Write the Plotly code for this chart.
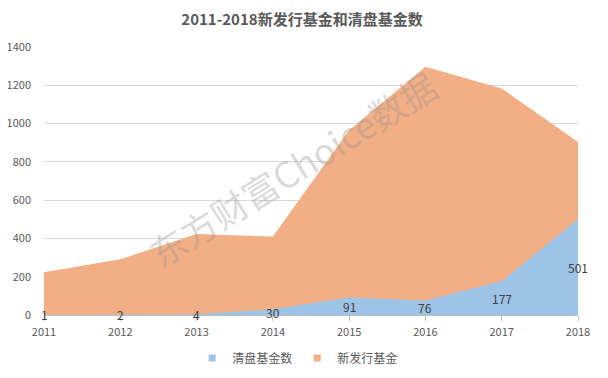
import plotly.graph_objects as go

years = [2011, 2012, 2013, 2014, 2015, 2016, 2017, 2018]
new_funds = [223, 291, 423, 410, 965, 1297, 1183, 904]
liquidated = [1, 2, 4, 30, 91, 76, 177, 501]
y_ticks = [0, 200, 400, 600, 800, 1000, 1200, 1400]

title_text = "2011-2018新发行基金和清盘基金数"
name_new = "新发行基金"
name_liq = "清盘基金数"
watermark = "东方财富Choice数据"

FONT = "Noto Sans CJK SC"
ORANGE = "#F2AE84"
BLUE = "#9DC3E6"
TEXT = "#595959"

fig = go.Figure()
fig.add_trace(go.Scatter(
    x=years, y=new_funds, name=name_new, mode="lines",
    fill="tozeroy", fillcolor=ORANGE, line=dict(width=0, color=ORANGE),
    showlegend=False, hoverinfo="x+y"))
fig.add_trace(go.Scatter(
    x=years, y=liquidated, name=name_liq, mode="lines",
    fill="tozeroy", fillcolor=BLUE, line=dict(width=0, color=BLUE),
    showlegend=False, hoverinfo="x+y"))
# legend swatches (small squares like the original)
fig.add_trace(go.Scatter(
    x=[None], y=[None], name=name_liq, mode="markers",
    marker=dict(symbol="square", size=7, color=BLUE), legendrank=1))
fig.add_trace(go.Scatter(
    x=[None], y=[None], name=name_new, mode="markers",
    marker=dict(symbol="square", size=7, color=ORANGE), legendrank=2))

annotations = []
for x, v in zip(years, liquidated):
    annotations.append(dict(
        x=x, y=v / 2, xref="x", yref="y", text=str(v), showarrow=False,
        font=dict(family=FONT, size=12, color="#404040"),
        xanchor="center", yanchor="middle"))

annotations.append(dict(
    x=0.465, y=0.55, xref="paper", yref="paper", text=watermark,
    showarrow=False, textangle=-32,
    font=dict(family=FONT, size=36, color="rgba(150,150,150,0.35)"),
    xanchor="center", yanchor="middle"))

# page body has an 8px margin, so the figure is 8px smaller to fit the window
fig.update_layout(
    width=600, height=370,
    margin=dict(l=36, r=30, t=39, b=63),
    paper_bgcolor="white", plot_bgcolor="white",
    title=dict(text="<b>" + title_text + "</b>", x=0.49, xanchor="center",
               y=1 - 12 / 370, yanchor="middle",
               font=dict(family=FONT, size=15, color=TEXT)),
    font=dict(family=FONT, color=TEXT),
    showlegend=True,
    legend=dict(orientation="h", x=0.475, xanchor="center",
                yref="container", y=20 / 370, yanchor="middle",
                font=dict(family=FONT, size=12, color=TEXT),
                itemwidth=30, bgcolor="rgba(0,0,0,0)"),
    annotations=annotations,
)

fig.update_xaxes(
    range=[2011, 2018], tickvals=years, ticktext=[str(y) for y in years],
    showgrid=False, zeroline=False, showline=True, linecolor="#BFBFBF",
    ticks="outside", ticklen=5, tickcolor="#BFBFBF", automargin=False,
    tickfont=dict(family=FONT, size=11, color=TEXT), ticklabelstandoff=2)
fig.update_yaxes(
    range=[0, 1400], tickvals=y_ticks, showgrid=True, gridcolor="#D9D9D9",
    gridwidth=1, zeroline=False, showline=False, automargin=False,
    tickfont=dict(family=FONT, size=11, color=TEXT), ticklabelstandoff=12)

fig.write_html("out.html")
